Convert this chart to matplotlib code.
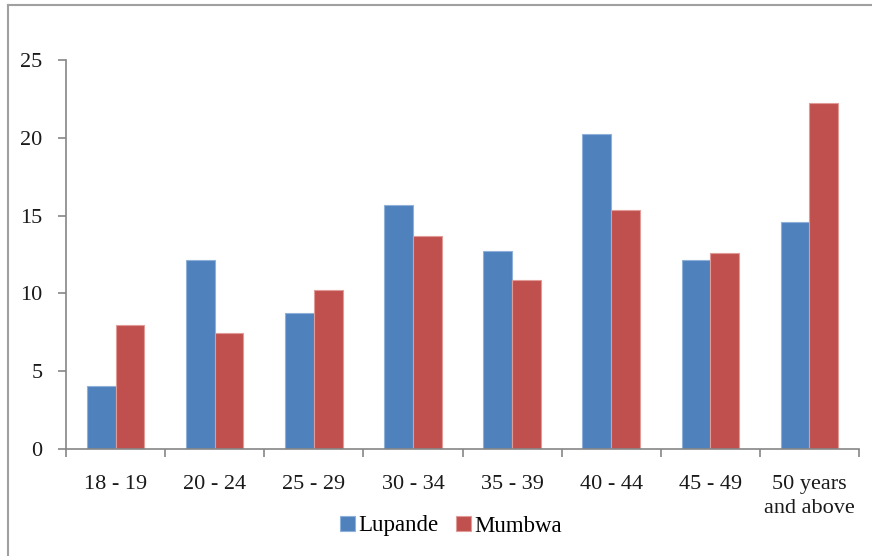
import matplotlib.pyplot as plt
import numpy as np
from matplotlib.lines import Line2D

categories = ["18 - 19", "20 - 24", "25 - 29", "30 - 34", "35 - 39",
              "40 - 44", "45 - 49", "50 years\nand above"]
lupande = [4.05, 12.15, 8.76, 15.68, 12.72, 20.22, 12.15, 14.56]
mumbwa = [7.99, 7.45, 10.19, 13.69, 10.86, 15.34, 12.6, 22.24]
series_names = ["Lupande", "Mumbwa"]
colors = ["#4F81BD", "#C0504D"]
edges = ["#8FB0D8", "#E09A98"]

W, H = 872, 556
plt.rcParams['font.family'] = ['Liberation Serif', 'DejaVu Serif']

fig = plt.figure(figsize=(W / 100, H / 100), dpi=100)
ax = fig.add_axes([66 / W, 1 - 449 / H, (859 - 66) / W, (449 - 60) / H])

x = np.arange(len(categories))
width = 0.29
b1 = ax.bar(x - width / 2, lupande, width, color=colors[0], edgecolor=edges[0],
            linewidth=0.8, label=series_names[0])
b2 = ax.bar(x + width / 2, mumbwa, width, color=colors[1], edgecolor=edges[1],
            linewidth=0.8, label=series_names[1])

ax.set_xlim(-0.5, len(categories) - 0.5)
ax.set_ylim(0, 25)
ax.set_yticks(range(0, 26, 5))
ax.set_xticks(x)
ax.set_xticklabels(categories, fontsize=16, color="#1a1a1a", linespacing=1.3)
ax.tick_params(axis="x", length=0, pad=19)
ax.set_xticks(np.arange(-0.5, len(categories), 1), minor=True)
ax.tick_params(axis="x", which="minor", length=6, direction="out", color="#868686", width=1.2)
ax.tick_params(axis="y", length=6, direction="out", color="#868686", width=1.2,
               labelsize=16, labelcolor="#1a1a1a", pad=11)

for s in ["top", "right"]:
    ax.spines[s].set_visible(False)
for s in ["left", "bottom"]:
    ax.spines[s].set_color("#868686")
    ax.spines[s].set_linewidth(1.2)

ax.legend(handles=[b1, b2], loc="center", bbox_to_anchor=(451 / W, 1 - 526 / H),
          bbox_transform=fig.transFigure, ncol=2, frameon=False, fontsize=16.5,
          handlelength=0.65, handleheight=0.6, handletextpad=0.15, columnspacing=0.8)

# chart frame (left and top edges visible)
fig.add_artist(Line2D([8 / W, 8 / W], [0, 1 - 5 / H], transform=fig.transFigure,
                      color="#A0A0A0", linewidth=1.5))
fig.add_artist(Line2D([8 / W, 1], [1 - 5 / H, 1 - 5 / H], transform=fig.transFigure,
                      color="#A0A0A0", linewidth=1.5))

fig.savefig("out.png", dpi=100)
